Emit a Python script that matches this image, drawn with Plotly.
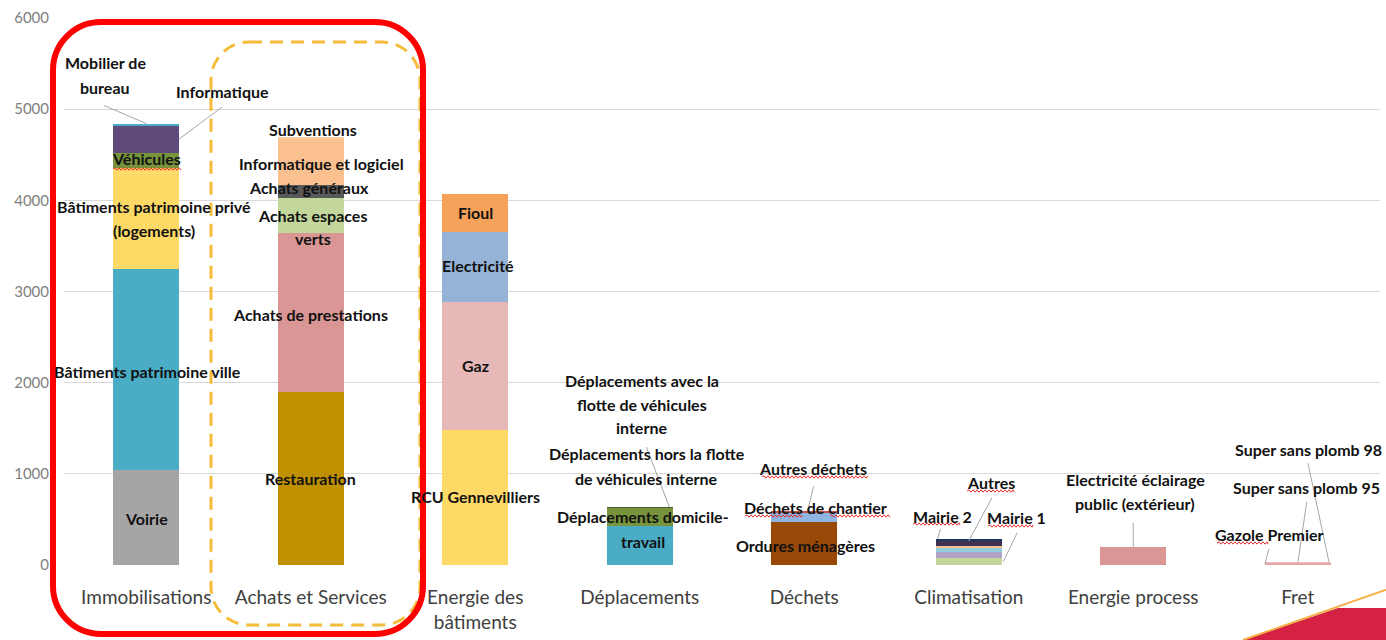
import plotly.graph_objects as go

# ---------------- DATA ----------------
categories = ["Immobilisations", "Achats et Services", "Energie des bâtiments", "Déplacements",
              "Déchets", "Climatisation", "Energie process", "Fret"]
tick_labels = ["Immobilisations", "Achats et Services", "Energie des<br>bâtiments", "Déplacements",
               "Déchets", "Climatisation", "Energie process", "Fret"]
y_ticks = [0, 1000, 2000, 3000, 4000, 5000, 6000]

immobilisations_postes = ["Voirie", "Bâtiments patrimoine ville", "Bâtiments patrimoine privé (logements)",
                          "Véhicules", "Informatique", "Mobilier de bureau"]
immobilisations_valeurs = [1040, 2210, 1100, 170, 305, 17]

achats_postes = ["Restauration", "Achats de prestations", "Achats espaces verts", "Achats généraux",
                 "Informatique et logiciel", "Subventions"]
achats_valeurs = [1900, 1740, 385, 145, 500, 28]

energie_bat_postes = ["RCU Gennevilliers", "Gaz", "Electricité", "Fioul"]
energie_bat_valeurs = [1480, 1405, 770, 413]

deplacements_postes = ["Déplacements domicile-travail", "Déplacements hors la flotte de véhicules interne",
                       "Déplacements avec la flotte de véhicules interne"]
deplacements_valeurs = [428, 200, 8]

dechets_postes = ["Ordures ménagères", "Déchets de chantier", "Autres déchets"]
dechets_valeurs = [470, 110, 8]

climatisation_postes = ["Mairie 1", "Site 2", "Site 3", "Site 4", "Autres", "Mairie 2"]
climatisation_valeurs = [73, 73, 44, 22, 51, 22]

energie_process_postes = ["Electricité éclairage public (extérieur)"]
energie_process_valeurs = [197]

fret_postes = ["Gazole Premier", "Super sans plomb 95", "Super sans plomb 98"]
fret_valeurs = [10, 12, 8]

# ---------------- STYLES ----------------
immobilisations_couleurs = ["#A5A5A5", "#4BACC6", "#FFD966", "#77933C", "#604A7B", "#4BACC6"]
achats_couleurs = ["#BF9000", "#D99694", "#C3D69B", "#595959", "#FAC090", "#FBC8A0"]
energie_bat_couleurs = ["#FFD966", "#E6B9B8", "#95B3D7", "#F6A15A"]
deplacements_couleurs = ["#4BACC6", "#77933C", "#4F6228"]
dechets_couleurs = ["#984807", "#8EB4E3", "#C0504D"]
climatisation_couleurs = ["#C3D69B", "#B3A2C7", "#93CDDD", "#FAC090", "#3F3151", "#17375E"]
energie_process_couleurs = ["#D99694"]
fret_couleurs = ["#EBB5B5", "#E3A5A5", "#F0C0C0"]

groups = [
    (immobilisations_postes, immobilisations_valeurs, immobilisations_couleurs),
    (achats_postes, achats_valeurs, achats_couleurs),
    (energie_bat_postes, energie_bat_valeurs, energie_bat_couleurs),
    (deplacements_postes, deplacements_valeurs, deplacements_couleurs),
    (dechets_postes, dechets_valeurs, dechets_couleurs),
    (climatisation_postes, climatisation_valeurs, climatisation_couleurs),
    (energie_process_postes, energie_process_valeurs, energie_process_couleurs),
    (fret_postes, fret_valeurs, fret_couleurs),
]

FONT = "Lato"
fig = go.Figure()
for ci, (postes, valeurs, couleurs) in enumerate(groups):
    for p, v, c in zip(postes, valeurs, couleurs):
        fig.add_trace(go.Bar(x=[categories[ci]], y=[v], name=p, marker=dict(color=c, line=dict(width=0)),
                             hovertemplate=p + ": %{y}<extra></extra>"))

# ---------------- LABELS (layout) ----------------
# (category index, text line, x shift in px, y position in data units)
label_lines = [
    (0, "Mobilier de", -41, 5517), (0, "bureau", -41, 5243),
    (0, "Informatique", 76, 5199),
    (0, "Véhicules", 0, 4464),
    (0, "Bâtiments patrimoine privé", 8, 3927), (0, "(logements)", 8, 3664),
    (0, "Bâtiments patrimoine ville", 1, 2128),
    (0, "Voirie", 0, 505),
    (1, "Subventions", 2, 4772),
    (1, "Informatique et logiciel", 11, 4399),
    (1, "Achats généraux", -2, 4146),
    (1, "Achats espaces", 2, 3839), (1, "verts", 2, 3576),
    (1, "Achats de prestations", 0, 2753),
    (1, "Restauration", 0, 954),
    (2, "Fioul", 0, 3872), (2, "Electricité", 3, 3280), (2, "Gaz", 0, 2183),
    (2, "RCU Gennevilliers", 0, 746),
    (3, "Déplacements avec la", 2, 2029), (3, "flotte de véhicules", 2, 1766), (3, "interne", 2, 1503),
    (3, "Déplacements hors la flotte", 7, 1218), (3, "de véhicules interne", 7, 954),
    (3, "Déplacements domicile-", 3, 527), (3, "travail", 3, 263),
    (4, "Autres déchets", 9, 1064), (4, "Déchets de chantier", 11, 636), (4, "Ordures ménagères", 1, 219),
    (5, "Autres", 22, 910), (5, "Mairie 2", -26, 537), (5, "Mairie 1", 48, 516),
    (6, "Electricité éclairage", 2, 943), (6, "public (extérieur)", 2, 680),
    (7, "Super sans plomb 98", 11, 1272), (7, "Super sans plomb 95", 9, 845), (7, "Gazole Premier", -28, 340),
]
for ci, txt, dx, yv in label_lines:
    fig.add_annotation(x=ci, y=yv, xref="x", yref="y", text=txt, showarrow=False, xshift=dx,
                       font=dict(family=FONT, size=16, color="#111111", weight="bold"))

# leader lines: (category index, segment index, anchor, x offset in category units, dx px, dy px (up))
leaders = [
    (0, 5, "top", 0.0, -42, 18),
    (0, 4, "mid", 0.2, 43, 32),
    (3, 2, "top", 0.18, -23, 60),
    (4, 2, "top", 0.02, 6, 25),
    (5, 4, "top", 0.0, 23, 43),
    (5, 5, "top", -0.19, 3, 10),
    (5, 0, "mid", 0.21, 14, 29),
    (6, 0, "top", 0.0, 0, 24),
    (7, 2, "top", 0.19, -21, 99),
    (7, 1, "top", 0.0, 9, 61),
    (7, 0, "top", -0.2, 4, 15),
]
shapes = []
for ci, si, anc, xo, dx, dy in leaders:
    vals = groups[ci][1]
    base = sum(vals[:si])
    yv = base + vals[si] if anc == "top" else base + vals[si] / 2
    shapes.append(dict(type="line", xref="x", yref="y", xsizemode="pixel", ysizemode="pixel",
                       xanchor=ci + xo, yanchor=yv, x0=0, y0=0, x1=dx, y1=dy,
                       line=dict(color="#A6A6A6", width=1)))

# ---------------- DECORATIONS (paper coords from pixels) ----------------
L, R, T, B = 64, 6, 18, 75
W, H = 1386, 640
PW, PH = W - L - R, H - T - B


def px(xp):
    return (xp - L) / PW


def py(yp):
    return (H - B - yp) / PH


def rounded_rect(x0, y0, x1, y1, r):
    k = 0.5523 * r
    pts = []
    pts.append(f"M {px(x0 + r)},{py(y0)}")
    pts.append(f"L {px(x1 - r)},{py(y0)}")
    pts.append(f"C {px(x1 - r + k)},{py(y0)} {px(x1)},{py(y0 + r - k)} {px(x1)},{py(y0 + r)}")
    pts.append(f"L {px(x1)},{py(y1 - r)}")
    pts.append(f"C {px(x1)},{py(y1 - r + k)} {px(x1 - r + k)},{py(y1)} {px(x1 - r)},{py(y1)}")
    pts.append(f"L {px(x0 + r)},{py(y1)}")
    pts.append(f"C {px(x0 + r - k)},{py(y1)} {px(x0)},{py(y1 - r + k)} {px(x0)},{py(y1 - r)}")
    pts.append(f"L {px(x0)},{py(y0 + r)}")
    pts.append(f"C {px(x0)},{py(y0 + r - k)} {px(x0 + r - k)},{py(y0)} {px(x0 + r)},{py(y0)} Z")
    return " ".join(pts)


def wavy(x0, x1, y, step=2.0, amp=1.2):
    pts = [f"M {px(x0)},{py(y)}"]
    x, up = x0, True
    while x < x1:
        x = min(x + step, x1)
        pts.append(f"L {px(x)},{py(y - amp if up else y + amp)}")
        up = not up
    return " ".join(pts)


shapes.append(dict(type="path", xref="paper", yref="paper", path=rounded_rect(211, 42, 420, 625, 38),
                   line=dict(color="#F5BC3A", width=3, dash="13px,8px"), layer="above"))
shapes.append(dict(type="path", xref="paper", yref="paper", path=rounded_rect(53, 22, 423, 634, 48),
                   line=dict(color="#FF0000", width=6), layer="above"))
shapes.append(dict(type="path", xref="paper", yref="paper",
                   path=f"M {px(1243)},{py(640)} L {px(1338)},{py(608)} L {px(1390)},{py(608)} "
                        f"L {px(1390)},{py(642)} L {px(1243)},{py(642)} Z",
                   fillcolor="#D42144", line=dict(width=0), layer="above"))
shapes.append(dict(type="line", xref="paper", yref="paper", x0=px(1243), y0=py(640), x1=px(1388), y1=py(589),
                   line=dict(color="#F5B041", width=2), layer="above"))

# spell-check style red wavy underlines
for x0, x1, y in [(113, 181, 169), (762, 868, 477), (745, 802, 516), (830, 890, 516),
                  (913, 960, 524), (988, 1033, 526), (967, 1014, 491), (1217, 1268, 543)]:
    shapes.append(dict(type="path", xref="paper", yref="paper", path=wavy(x0, x1, y),
                       line=dict(color="#E83030", width=1), layer="above"))

fig.update_layout(
    width=W, height=H, margin=dict(l=L, r=R, t=T, b=B, autoexpand=False),
    barmode="stack", bargap=0.6, showlegend=False,
    plot_bgcolor="white", paper_bgcolor="white",
    shapes=shapes,
    font=dict(family=FONT),
)
fig.update_yaxes(range=[0, 6000], tickvals=y_ticks, gridcolor="#D9D9D9", gridwidth=1,
                 zeroline=False, showline=False, ticks="",
                 tickfont=dict(family=FONT, size=15, color="#7F7F7F"), ticklabelstandoff=14)
fig.update_xaxes(range=[-0.5, len(categories) - 0.5], autorange=False,
                 categoryorder="array", categoryarray=categories, tickvals=categories, ticktext=tick_labels,
                 tickfont=dict(family=FONT, size=19, color="#404040"), ticks="", showline=False,
                 ticklabelstandoff=19)

fig.write_html("out.html", config={"displayModeBar": False},
               post_script="document.body.style.margin='0';document.body.style.overflow='hidden';")
